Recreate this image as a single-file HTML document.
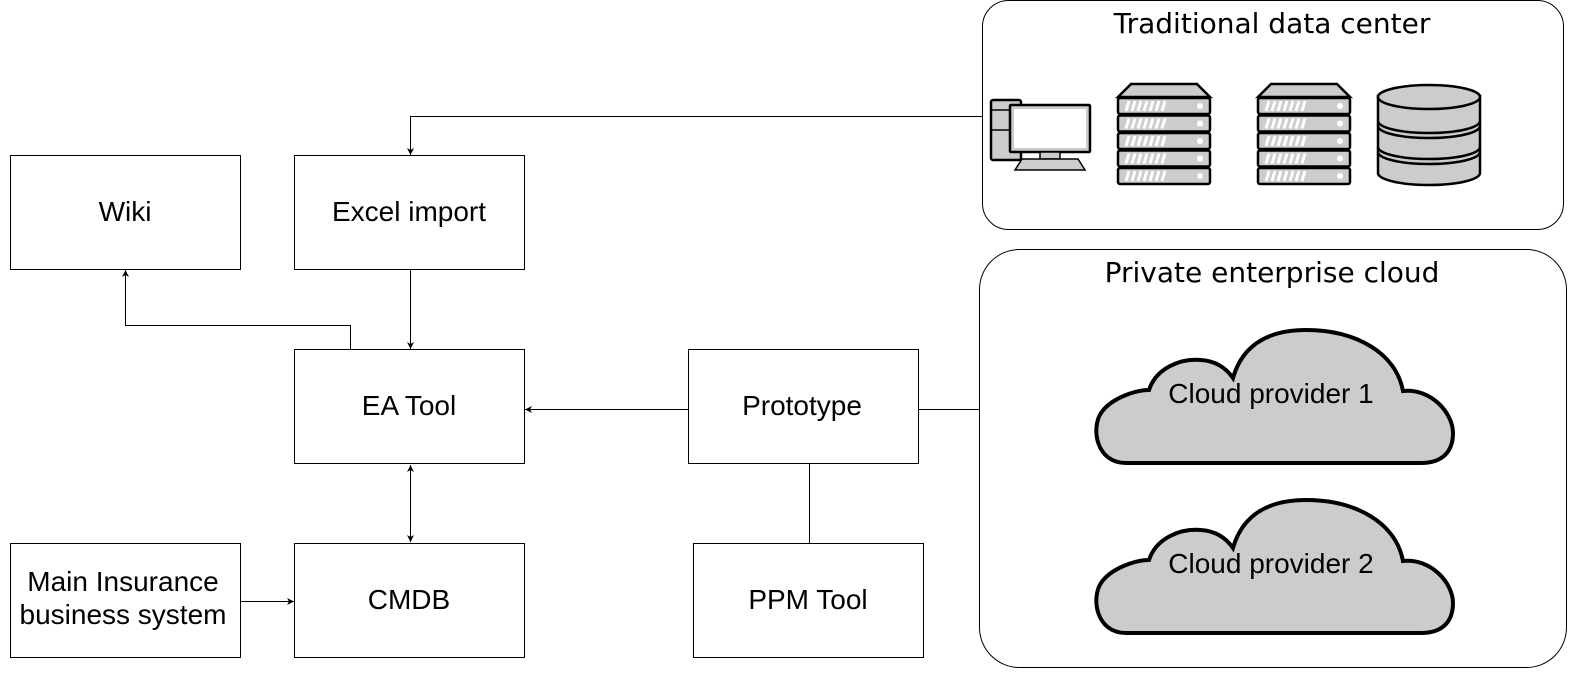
<!DOCTYPE html>
<html><head><meta charset="utf-8"><style>
html,body{margin:0;padding:0;background:#fff;}
svg{display:block;}
.b{fill:#fff;stroke:#000;stroke-width:1;}
.t{font-family:"Liberation Sans",Arial,sans-serif;font-size:28px;fill:#000;text-anchor:middle;}
.h{font-family:"DejaVu Sans",sans-serif;font-size:28px;fill:#000;text-anchor:middle;}
.l{fill:none;stroke:#000;stroke-width:1;}
.g{fill:#ccc;stroke:#000;stroke-width:2.5;}
</style></head><body>
<svg width="1572" height="680" viewBox="0 0 1572 680" xmlns="http://www.w3.org/2000/svg">
<defs>
<marker id="a" markerWidth="8" markerHeight="8" refX="7" refY="4" orient="auto" markerUnits="userSpaceOnUse">
<path d="M0,0.5 L7,4 L0,7.5 L2,4 Z" fill="#000"/></marker>
<marker id="s" markerWidth="8" markerHeight="8" refX="1" refY="4" orient="auto" markerUnits="userSpaceOnUse">
<path d="M8,0.5 L1,4 L8,7.5 L6,4 Z" fill="#000"/></marker>
<g id="srv">
<path d="M13,0 L79,0 L92,13 L0,13 Z" class="g"/>
<g id="u"><rect x="0" y="14" width="92" height="16" rx="2" class="g"/>
<path d="M8,27 l3,-10 M14,27 l3,-10 M20,27 l3,-10 M26,27 l3,-10 M32,27 l3,-10 M38,27 l3,-10 M44,27 l3,-10" stroke="#fff" stroke-width="3"/>
<circle cx="82" cy="22" r="3" fill="#fff"/></g>
<use href="#u" y="17.5"/><use href="#u" y="35"/><use href="#u" y="52.5"/><use href="#u" y="70"/>
</g>
<path id="cl" d="M35,135 C5,135 0,100 10,85 C20,70 45,62 58,62 C65,40 90,30 110,32 C125,33 135,40 142,50 C152,15 180,2 215,2 C265,2 305,25 312,63 C340,60 362,85 362,105 C362,125 350,135 330,135 Z"/>
</defs>

<rect x="982.5" y="0.5" width="581" height="229" rx="26" class="b" stroke="#333"/>
<text x="1272" y="33" class="h">Traditional data center</text>
<rect x="979.5" y="249.5" width="587" height="418" rx="40" class="b" stroke="#333"/>
<text x="1272" y="282" class="h">Private enterprise cloud</text>

<rect x="991" y="100" width="30" height="60" rx="2" class="g"/>
<line x1="991" y1="110" x2="1021" y2="110" stroke="#000" stroke-width="1.5"/>
<line x1="991" y1="130" x2="1021" y2="130" stroke="#000" stroke-width="1.5"/>
<rect x="1010" y="105" width="80" height="47" rx="1" class="g"/>
<rect x="1014" y="109" width="72" height="39" fill="#fff"/>
<rect x="1040" y="152" width="20" height="7" class="g" style="stroke-width:1.5"/>
<path d="M1022,159 L1078,159 L1085,170 L1015,170 Z" class="g" style="stroke-width:1.5"/>
<use href="#srv" x="1118" y="84"/>
<use href="#srv" x="1258" y="84"/>
<path d="M1378,96 L1378,173 A51,12 0 0 0 1480,173 L1480,96 Z" class="g"/>
<path d="M1378,121 A51,12 0 0 0 1480,121 M1378,126 A51,12 0 0 0 1480,126 M1378,147 A51,12 0 0 0 1480,147 M1378,152 A51,12 0 0 0 1480,152" class="l" style="stroke-width:2.5"/>
<ellipse cx="1429" cy="97" rx="51" ry="12" class="g"/>

<use href="#cl" x="1091" y="328" style="fill:#ccc;stroke:#000;stroke-width:4"/>
<use href="#cl" x="1091" y="498" style="fill:#ccc;stroke:#000;stroke-width:4"/>
<text x="1271" y="403" class="t">Cloud provider 1</text>
<text x="1271" y="573" class="t">Cloud provider 2</text>

<rect x="10.5" y="155.5" width="230" height="114" class="b"/><text x="125" y="221" class="t">Wiki</text>
<rect x="294.5" y="155.5" width="230" height="114" class="b"/><text x="409" y="221" class="t">Excel import</text>
<rect x="294.5" y="349.5" width="230" height="114" class="b"/><text x="409" y="415" class="t">EA Tool</text>
<rect x="294.5" y="543.5" width="230" height="114" class="b"/><text x="409" y="609" class="t">CMDB</text>
<rect x="10.5" y="543.5" width="230" height="114" class="b"/>
<text x="123" y="591" class="t">Main Insurance</text><text x="123" y="624" class="t">business system</text>
<rect x="688.5" y="349.5" width="230" height="114" class="b"/><text x="802" y="415" class="t">Prototype</text>
<rect x="693.5" y="543.5" width="230" height="114" class="b"/><text x="808" y="609" class="t">PPM Tool</text>

<path d="M982,116.5 L410.5,116.5 L410.5,155" class="l" marker-end="url(#a)"/>
<path d="M410.5,269 L410.5,349" class="l" marker-end="url(#a)"/>
<path d="M350.5,349 L350.5,325.5 L125.5,325.5 L125.5,270" class="l" marker-end="url(#a)"/>
<path d="M688,409.5 L525,409.5" class="l" marker-end="url(#a)"/>
<path d="M918,409.5 L979,409.5" class="l"/>
<path d="M809.5,463 L809.5,543" class="l"/>
<path d="M410.5,465 L410.5,542" class="l" marker-start="url(#s)" marker-end="url(#a)"/>
<path d="M240,601.5 L294,601.5" class="l" marker-end="url(#a)"/>
</svg>
</body></html>
